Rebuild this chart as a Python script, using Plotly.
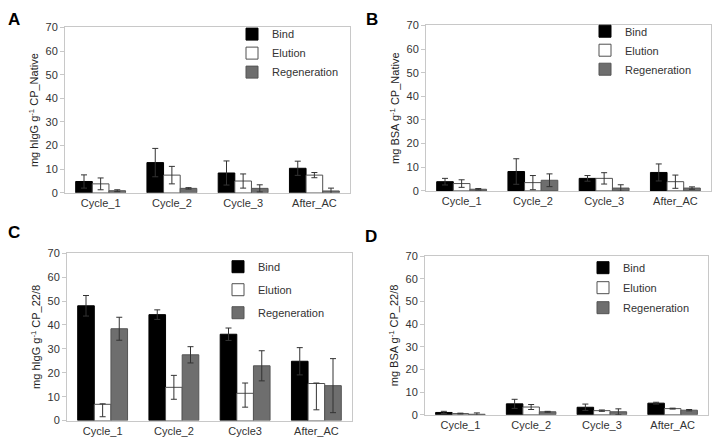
import plotly.graph_objects as go

W, H = 717, 447

series_names = ["Bind", "Elution", "Regeneration"]

cats_A = ["Cycle_1", "Cycle_2", "Cycle_3", "After_AC"]
bind_A = [4.8, 12.8, 8.4, 10.4]
bind_A_err = [2.8, 6.0, 5.1, 3.0]
elu_A = [3.8, 7.5, 5.0, 7.5]
elu_A_err = [2.5, 3.7, 3.0, 1.1]
reg_A = [0.9, 1.9, 1.9, 0.8]
reg_A_err = [0.4, 0.3, 1.5, 1.2]

cats_B = ["Cycle_1", "Cycle_2", "Cycle_3", "After_AC"]
bind_B = [3.9, 8.2, 5.3, 7.8]
bind_B_err = [1.4, 5.4, 1.2, 3.6]
elu_B = [3.1, 3.5, 5.3, 3.9]
elu_B_err = [1.6, 3.0, 2.4, 2.8]
reg_B = [0.7, 4.5, 1.2, 1.2]
reg_B_err = [0.3, 2.7, 1.4, 0.5]

cats_C = ["Cycle_1", "Cycle_2", "Cycle3", "After_AC"]
bind_C = [48.0, 44.3, 36.1, 24.8]
bind_C_err = [4.3, 2.0, 2.6, 5.7]
elu_C = [6.8, 13.9, 11.4, 15.5]
elu_C_err_up = [0.2, 5.0, 4.3, 0.2]
elu_C_err_down = [5.2, 5.0, 5.8, 11.0]
reg_C = [38.4, 27.5, 22.9, 14.6]
reg_C_err = [4.8, 3.4, 6.3, 11.3]

cats_D = ["Cycle_1", "Cycle_2", "Cycle_3", "After_AC"]
bind_D = [1.0, 4.8, 3.3, 5.1]
bind_D_err = [0.5, 2.0, 1.4, 0.4]
elu_D = [0.5, 3.4, 1.8, 2.7]
elu_D_err = [0.2, 1.1, 0.3, 0.2]
reg_D = [0.2, 1.3, 1.3, 2.0]
reg_D_err = [0.6, 0.2, 1.3, 0.3]

y_titles = [
    "mg hIgG g<sup>-1</sup> CP_Native",
    "mg BSA g<sup>-1</sup> CP_Native",
    "mg hIgG g<sup>-1</sup> CP_22/8",
    "mg BSA g<sup>-1</sup> CP_22/8",
]
panel_letters = ["A", "B", "C", "D"]

panels = [
    (cats_A, [bind_A, elu_A, reg_A], [(bind_A_err, bind_A_err), (elu_A_err, elu_A_err), (reg_A_err, reg_A_err)]),
    (cats_B, [bind_B, elu_B, reg_B], [(bind_B_err, bind_B_err), (elu_B_err, elu_B_err), (reg_B_err, reg_B_err)]),
    (cats_C, [bind_C, elu_C, reg_C], [(bind_C_err, bind_C_err), (elu_C_err_up, elu_C_err_down), (reg_C_err, reg_C_err)]),
    (cats_D, [bind_D, elu_D, reg_D], [(bind_D_err, bind_D_err), (elu_D_err, elu_D_err), (reg_D_err, reg_D_err)]),
]

# pixel boxes (left, right, top, bottom)
boxes = [(65, 350, 22, 192), (426, 711, 20, 190), (67, 352, 254, 426), (425, 708, 257, 420)]
legend_pos = [(232, 14), (585, 11), (218, 253), (583, 254)]
legend_gap = [0, 0, 4, 1]
letter_pos = [(14, 14), (372, 14), (14, 233), (371, 237)]

fills = ["#000000", "#ffffff", "#6e6e6e"]
lines = ["#000000", "#505050", "#555555"]

FONT = "Liberation Sans, Arial, sans-serif"

fig = go.Figure()
layout = dict(
    width=W, height=H, margin=dict(l=0, r=0, t=0, b=0),
    paper_bgcolor="white", plot_bgcolor="white",
    barmode="group", bargap=0.3, bargroupgap=0.0,
    font=dict(family=FONT, size=11, color="#333333"),
    showlegend=True,
)
annotations = []
for i, (cats, vals, errs) in enumerate(panels):
    sfx = "" if i == 0 else str(i + 1)
    xa, ya = "x" + sfx, "y" + sfx
    leg = "legend" if i == 0 else "legend" + str(i + 1)
    for j in range(3):
        up, down = errs[j]
        fig.add_trace(go.Bar(
            x=cats, y=vals[j], name=series_names[j],
            xaxis=xa, yaxis=ya, legend=leg, offsetgroup=str(j),
            legendgroup="p%d_%d" % (i, j),
            marker=dict(color=fills[j], line=dict(color=lines[j], width=1)),
            error_y=dict(type="data", symmetric=False, array=up, arrayminus=down,
                         color="#333333", thickness=1, width=3),
        ))
    l, r, t, b = boxes[i]
    layout["xaxis" + sfx] = dict(
        domain=[l / W, r / W], anchor=ya, showline=True, linecolor="#c8c8c8", linewidth=1,
        mirror=True, ticks="", tickfont=dict(size=11, color="#333333"), showgrid=False,
        fixedrange=True,
    )
    layout["yaxis" + sfx] = dict(
        domain=[1 - b / H, 1 - t / H], anchor=xa, range=[0, 70], dtick=10,
        showline=True, linecolor="#c8c8c8", linewidth=1, mirror=True,
        ticks="outside", ticklen=4, tickcolor="#c8c8c8", showgrid=False, zeroline=False,
        tickfont=dict(size=11, color="#333333"),
        title=dict(text=y_titles[i], font=dict(size=11, color="#222222"), standoff=4),
    )
    lx, ly = legend_pos[i]
    layout[leg] = dict(
        x=lx / W, y=1 - ly / H, xanchor="left", yanchor="top",
        bgcolor="rgba(0,0,0,0)", font=dict(size=11, color="#333333"),
        itemwidth=30, tracegroupgap=legend_gap[i],
    )
    px, py = letter_pos[i]
    annotations.append(dict(
        text="<b>%s</b>" % panel_letters[i], x=px / W, y=1 - py / H,
        xref="paper", yref="paper", showarrow=False, xanchor="center", yanchor="middle",
        font=dict(size=17, color="#000000", family=FONT),
    ))
layout["annotations"] = annotations
fig.update_layout(**layout)
fig.write_html("out.html")
